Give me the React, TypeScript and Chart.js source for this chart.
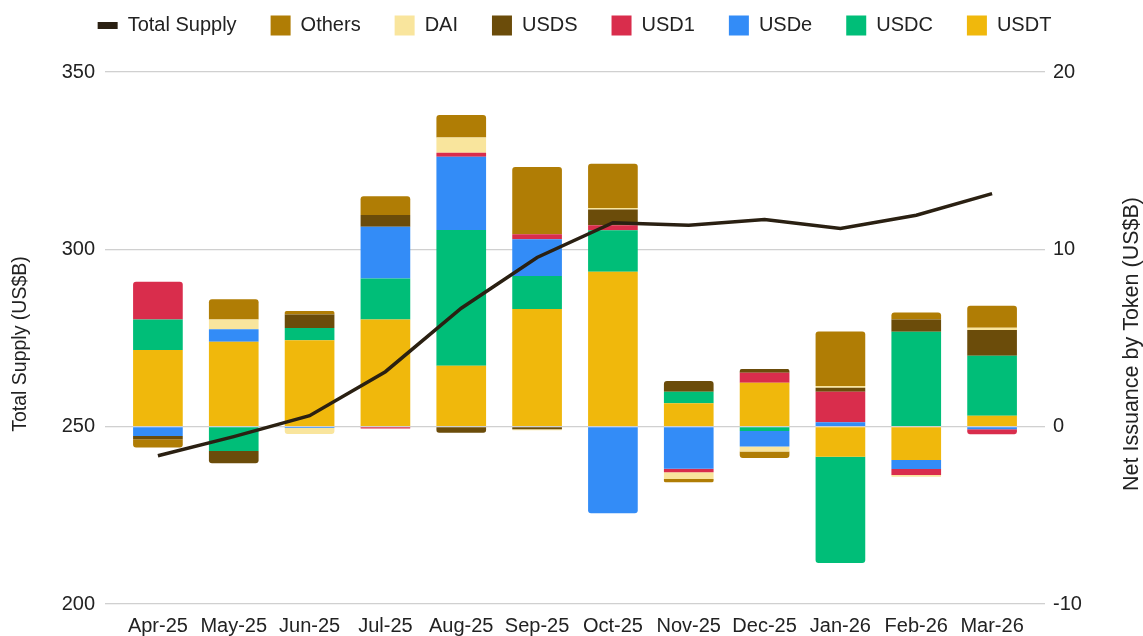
import React, { useEffect, useRef } from 'react';
import { Chart, registerables } from 'chart.js';

Chart.register(...registerables);

const FONT = '"Liberation Sans", Arial, Helvetica, sans-serif';

const months = ['Apr-25', 'May-25', 'Jun-25', 'Jul-25', 'Aug-25', 'Sep-25', 'Oct-25', 'Nov-25', 'Dec-25', 'Jan-26', 'Feb-26', 'Mar-26'];

// Total supply (US$B), left axis
const totalSupply = [241.8, 247.2, 253.1, 265.5, 283.4, 297.7, 307.5, 306.8, 308.4, 305.9, 309.6, 315.7];

// Net issuance by token (US$B), right axis
const usdt = [4.32, 4.79, 4.88, 6.05, 3.44, 6.63, 8.73, 1.32, 2.48, -1.69, -1.88, 0.62];
const usdc = [1.73, -1.37, 0.69, 2.31, 7.65, 1.86, 2.35, 0.65, -0.24, -6.0, 5.35, 3.38];
const usde = [-0.52, 0.70, -0.08, 2.91, 4.13, 2.08, -4.88, -2.38, -0.88, 0.25, -0.51, -0.15];
const usd1 = [2.12, 0, 0, -0.10, 0.23, 0.28, 0.28, -0.19, 0.56, 1.72, -0.34, -0.28];
const usds = [-0.19, -0.69, 0.75, 0.66, -0.34, -0.15, 0.88, 0.60, 0.21, 0.23, 0.70, 1.45];
const dai = [0, 0.56, -0.33, 0, 0.85, -0.05, 0.09, -0.38, -0.28, 0.10, -0.10, 0.13];
const others = [-0.47, 1.14, 0.20, 1.07, 1.28, 3.79, 2.50, -0.19, -0.37, 3.06, 0.39, 1.24];

const leftTicks = [200, 250, 300, 350];
const rightTicks = [-10, 0, 10, 20];

const leftTitle = 'Total Supply (US$B)';
const rightTitle = 'Net Issuance by Token (US$B)';

const C = {
  usdt: '#F0B80C',
  usdc: '#00BE78',
  usde: '#338CF7',
  usd1: '#D92D4C',
  usds: '#6B4C0A',
  dai: '#F9E59D',
  others: '#B07D05',
  line: '#2A2012',
  grid: '#D0D0D0',
  text: '#222222',
};

export default function App() {
  const ref = useRef<HTMLCanvasElement>(null);

  useEffect(() => {
    document.body.style.margin = '0';
    const canvas = ref.current;
    if (!canvas) return;

    const barDs = (label: string, data: number[], color: string) => ({
      type: 'bar' as const,
      label,
      data,
      backgroundColor: color,
      borderColor: color,
      borderWidth: 0,
      borderRadius: 3,
      yAxisID: 'yR',
      order: 1,
      stack: 's',
      categoryPercentage: 1,
      barPercentage: 0.655,
    });

    const legendSpace = {
      id: 'legendSpace',
      beforeLayout(chart: any) {
        const lg = chart.legend;
        if (lg && !lg.__patched) {
          const fit = lg.fit;
          lg.fit = function () {
            fit.call(this);
            this.height = 67;
          };
          const draw = lg.draw;
          lg.draw = function (...args: any[]) {
            const ctx = this.ctx;
            ctx.save();
            ctx.translate(0, -23.5);
            draw.apply(this, args);
            ctx.restore();
          };
          lg.__patched = true;
        }
      },
    };

    const axisTitles = {
      id: 'axisTitles',
      afterDraw(chart: any) {
        const ctx = chart.ctx;
        ctx.save();
        ctx.fillStyle = C.text;
        ctx.font = `19.5px ${FONT}`;
        ctx.textAlign = 'center';
        ctx.textBaseline = 'middle';
        ctx.translate(21, 344);
        ctx.rotate(-Math.PI / 2);
        ctx.fillText(leftTitle, 0, 0);
        ctx.restore();
        ctx.save();
        ctx.fillStyle = C.text;
        ctx.font = `21.5px ${FONT}`;
        ctx.textAlign = 'center';
        ctx.textBaseline = 'middle';
        ctx.translate(1132, 344);
        ctx.rotate(-Math.PI / 2);
        ctx.fillText(rightTitle, 0, 0);
        ctx.restore();
      },
    };

    const chart = new Chart(canvas, {
      type: 'bar',
      data: {
        labels: months,
        datasets: [
          barDs('USDT', usdt, C.usdt),
          barDs('USDC', usdc, C.usdc),
          barDs('USDe', usde, C.usde),
          barDs('USD1', usd1, C.usd1),
          barDs('USDS', usds, C.usds),
          barDs('DAI', dai, C.dai),
          barDs('Others', others, C.others),
          {
            type: 'line' as const,
            label: 'Total Supply',
            data: totalSupply,
            borderColor: C.line,
            backgroundColor: C.line,
            borderWidth: 3.5,
            pointRadius: 0,
            tension: 0,
            yAxisID: 'yL',
            order: 0,
          } as any,
        ],
      },
      options: {
        responsive: false,
        animation: false,
        layout: { padding: { top: 5, left: 6, right: 0, bottom: 0 } },
        font: { family: FONT },
        plugins: {
          tooltip: { enabled: false },
          legend: {
            position: 'top',
            labels: {
              usePointStyle: true,
              pointStyleWidth: 20,
              boxWidth: 20,
              boxHeight: 20,
              padding: 34,
              color: C.text,
              font: { family: FONT, size: 20 },
              sort: (a: any, b: any) => b.datasetIndex - a.datasetIndex,
              generateLabels: (ch: any) => {
                const items = (Chart.defaults.plugins.legend.labels as any).generateLabels(ch);
                items.forEach((it: any) => {
                  if (it.text === 'Total Supply') {
                    it.pointStyle = 'line';
                    it.lineWidth = 7;
                    it.strokeStyle = C.line;
                    it.lineCap = 'butt';
                  } else {
                    it.pointStyle = 'rect';
                    it.lineWidth = 0;
                  }
                });
                return items;
              },
            },
          },
        },
        scales: {
          x: {
            stacked: true,
            grid: { display: false, drawTicks: false },
            border: { display: false },
            ticks: {
              color: C.text,
              font: { family: FONT, size: 20 },
              padding: 10,
              maxRotation: 0,
              autoSkip: false,
            },
            afterFit: (s: any) => {
              s.height = 32;
            },
          },
          yL: {
            type: 'linear',
            position: 'left',
            min: leftTicks[0],
            max: leftTicks[leftTicks.length - 1],
            afterBuildTicks: (s: any) => {
              s.ticks = leftTicks.map((v) => ({ value: v }));
            },
            grid: { color: C.grid, lineWidth: 1.3, tickLength: 15, drawTicks: true },
            border: { display: false },
            ticks: { color: C.text, font: { family: FONT, size: 20 }, padding: 10 },
            afterFit: (s: any) => {
              s.width = 114;
            },
          },
          yR: {
            type: 'linear',
            position: 'right',
            stacked: true,
            min: rightTicks[0],
            max: rightTicks[rightTicks.length - 1],
            afterBuildTicks: (s: any) => {
              s.ticks = rightTicks.map((v) => ({ value: v }));
            },
            grid: { color: C.grid, lineWidth: 1.3, tickLength: 15, drawTicks: true, drawOnChartArea: false },
            border: { display: false },
            ticks: { color: C.text, font: { family: FONT, size: 20 }, padding: 8 },
            afterFit: (s: any) => {
              s.width = 113;
            },
          },
        },
      } as any,
      plugins: [legendSpace, axisTitles],
    });

    return () => chart.destroy();
  }, []);

  return (
    <div style={{ position: 'absolute', left: 0, top: 0, width: 1143, height: 636, background: '#fff' }}>
      <canvas ref={ref} width={1143} height={636} style={{ display: 'block' }} />
    </div>
  );
}
